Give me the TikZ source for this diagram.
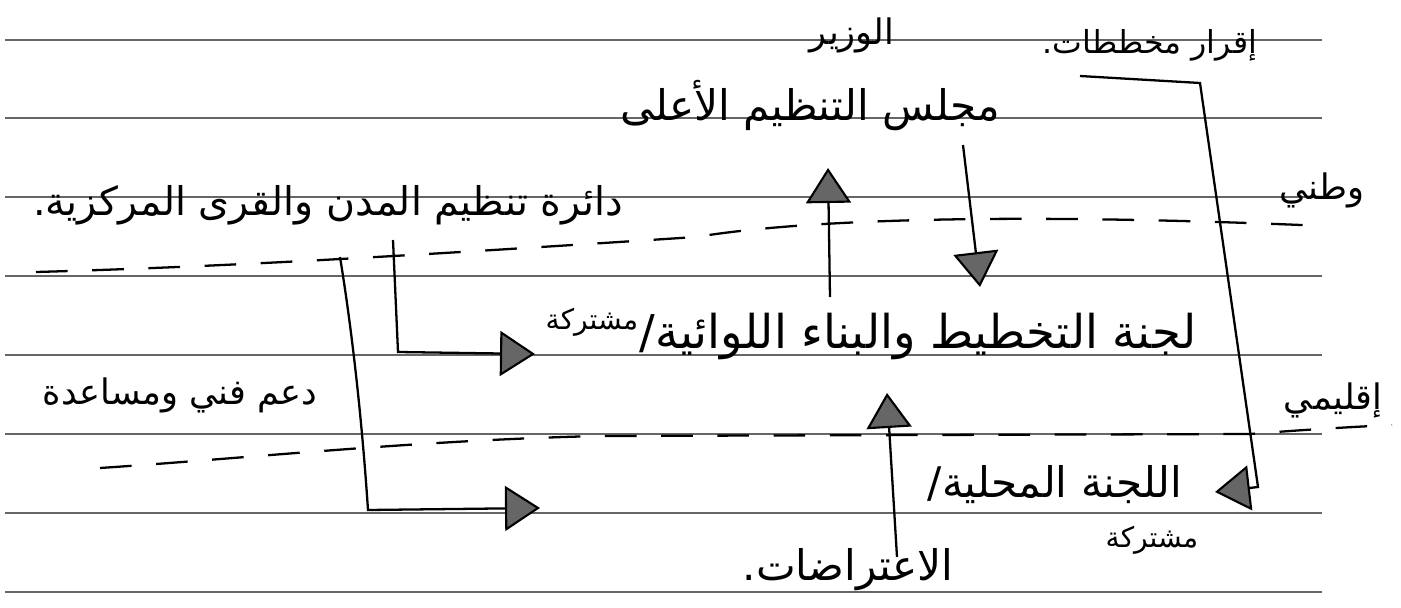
\documentclass[tikz,border=0pt]{standalone}
\usepackage{fontspec}
\newfontfamily\arabicfont[Script=Arabic]{DejaVu Sans}
\TeXXeTstate=1
\usetikzlibrary{arrows.meta}
\begin{document}
\begin{tikzpicture}[x=0.02cm,y=-0.02cm,
  rule/.style={draw=black!60, line width=0.7pt},
  dashline/.style={draw=black, line width=1.3pt, dash pattern=on 18pt off 14pt},
  conn/.style={draw=black, line width=1.3pt},
  tri/.style={-{Triangle[length=0.7cm,width=0.9cm,fill=black!60,line width=1.2pt]}},
  lab/.style={font=\arabicfont\fontsize{20}{24}\selectfont, inner sep=0pt},
  big/.style={font=\arabicfont\fontsize{24}{28}\selectfont, inner sep=0pt},
  small/.style={font=\arabicfont\fontsize{16}{18}\selectfont, inner sep=0pt}]
\useasboundingbox[fill=white] (0,0) rectangle (1401,608);
% ruled paper lines
\foreach \yy in {40,118,197,276,355,434,513,592}
  \draw[rule] (5,\yy) -- (1322,\yy);
% texts
\node[lab] (wazir) at (852,35) {\beginR الوزير\endR};
\node[font=\arabicfont\fontsize{18}{22}\selectfont, inner sep=0pt] (iqrar) at (1150,45) {\beginR إقرار مخططات.\endR};
\node[big] (majlis) at (810,106) {\beginR مجلس التنظيم الأعلى\endR};
\node[font=\arabicfont\fontsize{22.5}{26}\selectfont, inner sep=0pt] (daira) at (328,205) {\beginR دائرة تنظيم المدن والقرى المركزية.\endR};
\node[lab] (watani) at (1322,190) {\beginR وطني\endR};
\node[font=\arabicfont\fontsize{26.5}{30}\selectfont, inner sep=0pt] (lajna) at (918,336) {\beginR لجنة التخطيط والبناء اللوائية/\endR};
\node[small] (mush1) at (592,322) {\beginR مشتركة\endR};
\node[lab] (daam) at (180,395) {\beginR دعم فني ومساعدة\endR};
\node[lab] (iqlimi) at (1333,400) {\beginR إقليمي\endR};
\node[big] (mahalliya) at (1055,485) {\beginR اللجنة المحلية/\endR};
\node[small] (mush2) at (1152,540) {\beginR مشتركة\endR};
\node[big] (itirad) at (848,570) {\beginR الاعتراضات.\endR};
% dashed level separators
\draw[dashline] (36,272) .. controls (250,266) and (450,253) .. (696,237)
  .. controls (800,220) and (1000,212) .. (1325,226);
\draw[dashline] (100,468) .. controls (250,458) and (420,440) .. (600,436)
  -- (1250,434) .. controls (1300,430) and (1350,427) .. (1392,425);
% connector end points
\coordinate (a1s) at (830,297);
\coordinate (a1e) at (828,168);
\coordinate (a2s) at (963,145);
\coordinate (a2e) at (980,287);
\coordinate (a3s) at (897,557);
\coordinate (a3e) at (887,393);
\coordinate (b1s) at (393,240);
\coordinate (b1c) at (398,352);
\coordinate (b1e) at (535,354);
\coordinate (b2s) at (340,257);
\coordinate (b2c) at (368,510);
\coordinate (b2e) at (540,508);
\coordinate (r1s) at (1080,76);
\coordinate (r1c) at (1200,83);
\coordinate (r1d) at (1258,487);
\coordinate (r1e) at (1215,492);
% connectors
\draw[conn,tri] (a1s) -- (a1e);
\draw[conn,tri] (a2s) -- (a2e);
\draw[conn,tri] (a3s) -- (a3e);
\draw[conn,tri] (b1s) -- (b1c) -- (b1e);
\draw[conn,tri] (b2s) .. controls (352,330) and (362,420) .. (b2c) -- (b2e);
\draw[conn,tri] (r1s) -- (r1c) -- (r1d) -- (r1e);
\end{tikzpicture}
\end{document}
